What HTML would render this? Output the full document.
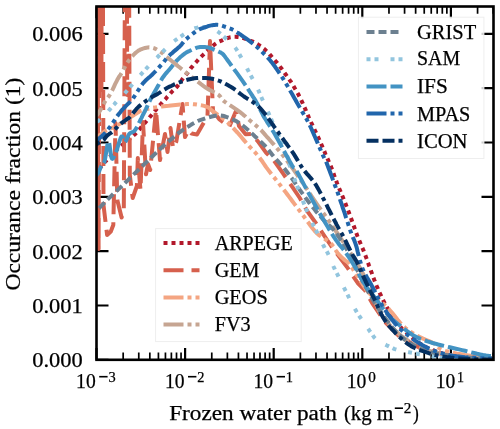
<!DOCTYPE html><html><head><meta charset="utf-8"><style>html,body{margin:0;padding:0;background:#fff;width:500px;height:429px;overflow:hidden}svg{display:block;will-change:transform}text{font-family:"Liberation Serif",serif;fill:#000;stroke:#000;stroke-width:0.25px}</style></head><body>
<svg width="500" height="429" viewBox="0 0 500 429">
<rect width="500" height="429" fill="#fff"/>
<defs><clipPath id="ax"><rect x="96.50" y="6.50" width="397.00" height="353.30"/></clipPath></defs>
<path d="M123.17 359.80V352.50M123.17 6.50V13.80M138.77 359.80V352.50M138.77 6.50V13.80M149.84 359.80V352.50M149.84 6.50V13.80M158.43 359.80V352.50M158.43 6.50V13.80M165.44 359.80V352.50M165.44 6.50V13.80M171.38 359.80V352.50M171.38 6.50V13.80M176.51 359.80V352.50M176.51 6.50V13.80M181.05 359.80V352.50M181.05 6.50V13.80M211.77 359.80V352.50M211.77 6.50V13.80M227.37 359.80V352.50M227.37 6.50V13.80M238.44 359.80V352.50M238.44 6.50V13.80M247.03 359.80V352.50M247.03 6.50V13.80M254.04 359.80V352.50M254.04 6.50V13.80M259.98 359.80V352.50M259.98 6.50V13.80M265.11 359.80V352.50M265.11 6.50V13.80M269.65 359.80V352.50M269.65 6.50V13.80M300.37 359.80V352.50M300.37 6.50V13.80M315.97 359.80V352.50M315.97 6.50V13.80M327.04 359.80V352.50M327.04 6.50V13.80M335.63 359.80V352.50M335.63 6.50V13.80M342.64 359.80V352.50M342.64 6.50V13.80M348.58 359.80V352.50M348.58 6.50V13.80M353.71 359.80V352.50M353.71 6.50V13.80M358.25 359.80V352.50M358.25 6.50V13.80M388.97 359.80V352.50M388.97 6.50V13.80M404.57 359.80V352.50M404.57 6.50V13.80M415.64 359.80V352.50M415.64 6.50V13.80M424.23 359.80V352.50M424.23 6.50V13.80M431.24 359.80V352.50M431.24 6.50V13.80M437.18 359.80V352.50M437.18 6.50V13.80M442.31 359.80V352.50M442.31 6.50V13.80M446.85 359.80V352.50M446.85 6.50V13.80M477.57 359.80V352.50M477.57 6.50V13.80M493.17 359.80V352.50M493.17 6.50V13.80" stroke="#000" stroke-width="1.7" fill="none"/>
<path d="M96.50 359.80V348.00M96.50 6.50V18.30M185.10 359.80V348.00M185.10 6.50V18.30M273.70 359.80V348.00M273.70 6.50V18.30M362.30 359.80V348.00M362.30 6.50V18.30M450.90 359.80V348.00M450.90 6.50V18.30" stroke="#000" stroke-width="2.2" fill="none"/>
<path d="M96.50 359.80H108.50M493.50 359.80H481.50M96.50 305.48H108.50M493.50 305.48H481.50M96.50 251.16H108.50M493.50 251.16H481.50M96.50 196.84H108.50M493.50 196.84H481.50M96.50 142.52H108.50M493.50 142.52H481.50M96.50 88.20H108.50M493.50 88.20H481.50M96.50 33.88H108.50M493.50 33.88H481.50" stroke="#000" stroke-width="2.2" fill="none"/>
<g clip-path="url(#ax)" fill="none" stroke-width="4" stroke-linecap="butt" stroke-linejoin="round">
<path d="M90.0 182.0 L90.8 180.9 L91.8 179.4 L93.1 177.6 L94.4 175.6 L95.8 173.7 L97.0 172.0 L98.2 170.4 L99.4 168.8 L100.6 167.2 L101.8 165.7 L102.9 164.3 L104.0 163.0 L104.9 161.9 L105.8 161.1 L106.6 160.3 L107.4 159.6 L108.2 158.8 L109.0 158.0 L109.8 157.1 L110.6 156.1 L111.4 155.1 L112.2 154.0 L113.0 153.0 L114.0 152.0 L115.0 151.0 L116.1 150.1 L117.2 149.2 L118.4 148.3 L119.7 147.2 L121.2 146.0 L122.9 144.5 L125.0 142.9 L127.1 141.1 L129.2 139.3 L131.2 137.6 L132.8 136.2 L134.0 135.1 L134.9 134.3 L135.6 133.6 L136.3 132.9 L137.2 132.0 L138.4 130.6 L140.0 128.8 L141.8 126.6 L143.8 124.2 L145.9 121.7 L148.0 119.2 L149.9 116.9 L151.8 114.7 L153.7 112.4 L155.6 110.2 L157.4 108.1 L159.0 106.2 L160.5 104.5 L161.7 103.1 L162.7 102.0 L163.6 101.0 L164.4 100.1 L165.2 99.3 L166.1 98.3 L167.0 97.2 L168.0 96.2 L168.9 95.1 L169.8 94.1 L170.8 93.0 L171.7 92.0 L172.6 91.0 L173.6 90.1 L174.5 89.2 L175.5 88.3 L176.4 87.4 L177.3 86.4 L178.1 85.3 L179.0 84.2 L179.8 83.0 L180.5 81.8 L181.4 80.6 L182.2 79.4 L183.1 78.2 L184.1 77.0 L185.0 75.8 L186.0 74.6 L186.9 73.5 L187.8 72.4 L188.6 71.4 L189.3 70.5 L189.9 69.6 L190.5 68.7 L191.2 67.8 L192.0 66.8 L192.9 65.8 L193.8 64.7 L194.7 63.6 L195.7 62.6 L196.7 61.5 L197.6 60.5 L198.4 59.6 L199.2 58.8 L199.9 58.0 L200.8 57.1 L201.8 56.1 L203.1 54.9 L204.8 53.3 L206.9 51.3 L209.1 49.2 L211.4 47.1 L213.6 45.3 L215.4 43.8 L216.9 42.8 L218.2 42.0 L219.3 41.5 L220.3 41.1 L221.4 40.7 L222.6 40.2 L223.9 39.6 L225.1 39.1 L226.4 38.5 L227.8 38.0 L229.1 37.6 L230.4 37.3 L231.7 37.1 L233.1 36.9 L234.5 36.8 L235.8 36.8 L237.2 36.9 L238.5 37.0 L239.8 37.2 L241.0 37.4 L242.3 37.8 L243.5 38.2 L244.7 38.6 L246.0 39.0 L247.3 39.5 L248.6 39.9 L250.0 40.5 L251.3 41.0 L252.7 41.6 L254.0 42.3 L255.4 43.0 L256.7 43.8 L258.1 44.6 L259.5 45.5 L260.8 46.3 L262.0 47.2 L263.1 48.1 L264.2 48.9 L265.2 49.8 L266.1 50.7 L267.1 51.6 L268.0 52.5 L268.9 53.4 L269.7 54.4 L270.5 55.3 L271.3 56.3 L272.1 57.3 L273.0 58.3 L273.9 59.3 L274.8 60.3 L275.7 61.3 L276.7 62.4 L277.8 63.7 L279.0 65.2 L280.4 67.1 L282.0 69.3 L283.7 71.6 L285.4 74.0 L286.9 76.1 L288.2 78.0 L289.2 79.4 L289.9 80.4 L290.6 81.3 L291.2 82.2 L291.9 83.3 L292.8 84.8 L293.9 86.7 L295.2 88.9 L296.6 91.3 L298.1 93.9 L299.5 96.7 L301.0 99.6 L302.5 102.8 L304.0 106.2 L305.6 109.8 L307.2 113.5 L308.7 117.1 L310.3 120.6 L311.9 124.0 L313.5 127.4 L315.1 130.8 L316.7 134.1 L318.2 137.3 L319.6 140.4 L320.9 143.4 L322.2 146.4 L323.4 149.2 L324.6 151.9 L325.6 154.5 L326.6 156.7 L327.4 158.5 L328.1 159.9 L328.6 161.1 L329.2 162.3 L329.8 163.7 L330.6 165.6 L331.5 168.1 L332.6 170.9 L333.7 174.0 L334.8 177.2 L336.0 180.4 L337.1 183.3 L338.2 186.0 L339.3 188.7 L340.4 191.3 L341.5 193.9 L342.6 196.5 L343.7 199.2 L344.8 201.9 L345.8 204.6 L346.9 207.3 L348.0 210.1 L349.1 213.0 L350.2 216.0 L351.4 219.3 L352.6 222.7 L353.9 226.3 L355.2 229.9 L356.4 233.3 L357.6 236.5 L358.8 239.4 L359.9 242.1 L361.0 244.7 L362.1 247.2 L363.2 249.7 L364.2 252.3 L365.2 254.9 L366.2 257.6 L367.2 260.3 L368.1 262.9 L369.0 265.6 L370.0 268.2 L370.9 270.8 L371.9 273.4 L372.8 276.0 L373.8 278.6 L374.7 281.1 L375.7 283.6 L376.7 286.1 L377.8 288.5 L378.8 291.0 L379.9 293.3 L381.0 295.6 L382.0 297.8 L383.0 299.8 L383.9 301.7 L384.9 303.5 L385.9 305.3 L386.9 307.1 L388.0 309.0 L389.2 311.0 L390.5 313.0 L391.8 315.0 L393.2 317.1 L394.6 319.1 L396.0 321.0 L397.3 322.8 L398.6 324.5 L399.9 326.1 L401.3 327.8 L403.0 329.6 L405.0 331.5 L407.5 333.7 L410.3 336.1 L413.3 338.7 L416.5 341.1 L419.8 343.5 L423.0 345.5 L426.2 347.2 L429.4 348.8 L432.7 350.2 L436.0 351.4 L439.5 352.6 L443.0 353.6 L446.5 354.5 L450.0 355.3 L453.6 355.9 L457.4 356.4 L461.5 356.9 L466.0 357.4 L471.4 357.8 L477.8 358.2 L484.4 358.5 L490.8 358.7 L496.2 358.9 L500.0 359.1" stroke="#b2182b" stroke-dasharray="4 4"/>
<path d="M96.0 -300.0 L98.6 249.0 L100.3 -300.0 L101.4 90.0 L102.2 -300.0 L103.5 205.0 L107.1 235.0 L110.8 231.5 L113.3 225.0 L115.5 123.0 L117.3 200.0 L121.6 217.5 L123.8 211.0 L126.3 -300.0 L127.2 95.0 L128.1 -300.0 L129.8 175.0 L132.7 198.0 L136.9 186.0 L137.8 158.0 L140.5 190.0 L143.0 122.0 L146.0 174.3 L148.0 164.0 L150.2 170.0 L156.0 110.0 L160.0 160.0 L165.0 134.0 L167.5 152.0 L170.5 128.0 L173.0 148.0 L176.3 141.6 L182.5 104.0 L185.0 137.0 L188.6 130.0 L191.5 133.5 L197.0 134.5 L207.5 116.0 L210.0 41.0 L213.0 111.0 L219.5 119.5 L229.3 126.8 L236.0 111.0 L239.0 126.0 L245.6 134.2 L252.0 134.0 L258.6 142.3 L266.2 152.8 L273.7 160.3 L283.0 173.4 L292.3 186.8 L299.8 198.0 L307.2 211.0 L316.6 224.1 L324.0 235.3 L331.5 246.5 L347.0 267.0 L358.2 283.6 L365.2 290.6 L372.2 303.1 L385.0 322.0 L400.0 337.0 L420.0 348.0 L445.0 355.0 L500.0 359.0" stroke="#d6604d" stroke-dasharray="20 8"/>
<path d="M90.0 141.0 L90.8 140.5 L92.0 139.9 L93.4 139.1 L94.9 138.2 L96.4 137.4 L97.8 136.5 L99.1 135.6 L100.3 134.7 L101.5 133.7 L102.7 132.8 L104.1 131.8 L105.5 130.9 L107.1 130.1 L108.8 129.2 L110.7 128.4 L112.5 127.7 L114.3 126.8 L116.0 126.0 L117.7 125.1 L119.4 124.1 L121.0 123.1 L122.6 122.1 L124.0 121.2 L125.3 120.4 L126.3 119.8 L127.1 119.3 L127.8 118.9 L128.4 118.6 L129.1 118.1 L130.0 117.6 L131.1 116.9 L132.3 116.1 L133.5 115.3 L134.8 114.4 L135.9 113.7 L137.0 113.0 L137.9 112.5 L138.6 112.0 L139.2 111.6 L139.9 111.2 L140.6 110.9 L141.6 110.5 L142.7 110.1 L143.9 109.7 L145.2 109.4 L146.6 109.0 L148.2 108.7 L150.0 108.3 L152.0 107.9 L154.3 107.6 L156.7 107.2 L159.1 106.8 L161.6 106.5 L164.0 106.2 L166.3 105.9 L168.7 105.7 L171.0 105.4 L173.3 105.2 L175.7 105.0 L178.0 104.8 L180.3 104.6 L182.7 104.4 L185.0 104.2 L187.3 104.1 L189.7 104.0 L192.0 104.1 L194.4 104.3 L196.9 104.6 L199.4 105.0 L201.9 105.4 L204.1 105.9 L206.0 106.5 L207.5 107.1 L208.6 107.7 L209.6 108.4 L210.5 109.2 L211.6 110.2 L213.0 111.3 L214.8 112.6 L216.9 114.1 L219.2 115.7 L221.6 117.5 L223.9 119.2 L226.0 121.0 L228.0 122.8 L230.0 124.7 L231.9 126.6 L233.8 128.6 L235.6 130.6 L237.4 132.5 L239.1 134.4 L240.7 136.3 L242.3 138.2 L243.9 140.1 L245.5 142.0 L247.2 144.0 L249.0 146.0 L251.0 148.1 L253.0 150.2 L255.0 152.3 L256.9 154.5 L258.7 156.6 L260.3 158.7 L261.8 160.7 L263.1 162.7 L264.6 164.8 L266.1 167.1 L268.0 169.6 L270.2 172.5 L272.7 175.7 L275.4 179.0 L278.1 182.4 L280.7 185.7 L283.0 188.7 L285.1 191.4 L287.0 194.0 L288.8 196.4 L290.6 198.8 L292.4 201.2 L294.2 203.6 L296.1 206.1 L297.9 208.6 L299.8 211.1 L301.7 213.6 L303.5 216.0 L305.4 218.5 L307.2 221.0 L309.0 223.5 L310.8 226.0 L312.7 228.5 L314.6 230.8 L316.6 233.0 L318.9 235.0 L321.3 236.7 L323.9 238.4 L326.3 240.0 L328.6 241.6 L330.6 243.2 L332.2 244.9 L333.5 246.6 L334.5 248.3 L335.5 250.0 L336.5 251.5 L337.6 253.0 L338.8 254.4 L340.0 255.6 L341.2 256.8 L342.4 258.0 L343.6 259.0 L344.6 260.0 L345.5 260.7 L346.2 261.2 L346.8 261.5 L347.5 262.0 L348.4 262.9 L349.5 264.2 L350.9 266.2 L352.6 268.7 L354.4 271.5 L356.3 274.4 L358.2 277.3 L360.0 280.0 L361.6 282.5 L363.1 284.9 L364.6 287.2 L366.2 289.5 L368.0 291.8 L370.0 294.0 L372.3 296.1 L374.9 297.9 L377.7 299.8 L380.5 301.7 L383.4 303.8 L386.2 306.2 L389.0 309.2 L391.9 312.5 L394.7 316.1 L397.6 319.7 L400.4 323.0 L403.0 325.8 L405.4 328.0 L407.7 329.8 L409.9 331.4 L412.1 332.8 L414.5 334.2 L417.0 335.6 L419.9 337.1 L423.1 338.6 L426.4 340.0 L429.6 341.4 L432.6 342.8 L435.0 344.0 L436.7 345.2 L437.7 346.2 L438.5 347.2 L439.3 348.2 L440.5 349.1 L442.5 350.0 L445.4 350.9 L448.9 351.8 L452.9 352.7 L457.1 353.6 L461.2 354.3 L465.0 355.0 L468.7 355.5 L472.4 356.0 L476.0 356.4 L479.6 356.7 L482.9 356.9 L486.0 357.2 L488.9 357.4 L491.7 357.6 L494.3 357.7 L496.6 357.8 L498.6 357.9 L500.0 358.0" stroke="#f4a582" stroke-dasharray="20 4 4 4 4 4"/>
<path d="M90.0 124.0 L91.0 122.7 L92.5 120.8 L94.2 118.6 L96.0 116.3 L97.8 114.0 L99.2 112.0 L100.4 110.1 L101.4 108.3 L102.3 106.5 L103.2 104.8 L104.1 103.2 L105.0 101.6 L105.9 100.2 L106.8 99.0 L107.6 97.9 L108.5 96.8 L109.4 95.4 L110.4 93.8 L111.5 91.8 L112.7 89.4 L113.9 86.8 L115.1 84.2 L116.3 81.8 L117.3 79.8 L118.2 78.2 L119.0 76.9 L119.7 75.8 L120.4 74.8 L121.2 73.6 L122.0 72.3 L122.9 70.7 L123.8 69.0 L124.7 67.3 L125.6 65.5 L126.7 63.7 L127.8 62.0 L129.0 60.3 L130.4 58.6 L131.8 56.9 L133.2 55.2 L134.6 53.8 L136.0 52.5 L137.3 51.5 L138.5 50.6 L139.8 49.9 L141.0 49.3 L142.3 48.8 L143.6 48.4 L145.0 48.0 L146.4 47.7 L147.9 47.4 L149.3 47.3 L150.8 47.4 L152.3 47.6 L153.9 48.1 L155.5 48.8 L157.2 49.8 L158.8 50.7 L160.2 51.7 L161.5 52.5 L162.5 53.2 L163.3 53.8 L163.9 54.5 L164.5 55.1 L165.2 55.8 L166.0 56.5 L167.0 57.3 L168.1 58.2 L169.3 59.1 L170.5 60.0 L171.7 61.0 L173.0 62.0 L174.3 63.0 L175.5 64.0 L176.8 65.1 L178.1 66.2 L179.5 67.3 L181.0 68.5 L182.5 69.7 L184.0 70.9 L185.6 72.2 L187.2 73.5 L189.0 75.0 L191.0 76.5 L193.2 78.2 L195.7 80.2 L198.4 82.2 L201.0 84.2 L203.6 86.1 L206.0 87.8 L208.3 89.2 L210.5 90.4 L212.7 91.5 L214.8 92.6 L216.6 93.6 L218.3 94.7 L219.6 95.8 L220.5 96.9 L221.2 97.9 L222.0 99.0 L223.0 100.2 L224.4 101.5 L226.4 103.0 L228.8 104.5 L231.4 106.2 L234.0 107.9 L236.6 109.6 L239.0 111.3 L241.1 112.9 L243.1 114.6 L245.1 116.2 L246.9 117.9 L248.7 119.5 L250.5 121.0 L252.3 122.5 L254.0 123.9 L255.7 125.3 L257.3 126.7 L258.8 128.0 L260.2 129.3 L261.4 130.5 L262.4 131.6 L263.3 132.6 L264.2 133.7 L265.2 134.8 L266.2 136.0 L267.4 137.3 L268.7 138.7 L270.0 140.2 L271.3 141.7 L272.5 143.1 L273.7 144.4 L274.7 145.6 L275.6 146.6 L276.5 147.6 L277.4 148.7 L278.3 149.8 L279.3 151.0 L280.3 152.3 L281.4 153.5 L282.4 154.8 L283.6 156.2 L285.0 158.0 L286.7 160.3 L288.7 163.1 L291.1 166.4 L293.7 169.9 L296.3 173.7 L299.0 177.5 L301.6 181.2 L304.2 185.0 L306.8 188.9 L309.5 192.9 L312.0 196.8 L314.4 200.4 L316.6 203.6 L318.5 206.3 L320.2 208.7 L321.7 210.8 L323.1 212.8 L324.5 214.7 L325.9 216.6 L327.2 218.5 L328.3 220.1 L329.4 221.7 L330.6 223.4 L331.9 225.3 L333.4 227.5 L335.2 230.1 L337.2 233.0 L339.3 236.1 L341.5 239.3 L343.8 242.6 L346.0 246.0 L348.3 249.4 L350.6 253.0 L353.0 256.6 L355.4 260.3 L357.8 264.1 L360.0 268.0 L362.2 272.1 L364.3 276.4 L366.5 280.8 L368.5 285.1 L370.3 289.3 L372.0 293.0 L373.4 296.4 L374.6 299.6 L375.7 302.5 L376.7 305.3 L377.6 307.8 L378.6 310.0 L379.5 311.8 L380.3 313.2 L381.0 314.4 L381.9 315.5 L382.9 316.8 L384.2 318.4 L385.8 320.4 L387.7 322.6 L389.8 325.0 L392.0 327.5 L394.3 329.8 L396.6 332.0 L399.0 334.0 L401.4 336.0 L404.0 337.9 L406.6 339.7 L409.2 341.5 L412.0 343.1 L414.7 344.6 L417.4 346.1 L420.1 347.4 L423.0 348.7 L426.3 349.9 L430.0 351.0 L434.2 352.1 L438.7 353.1 L443.6 354.1 L448.8 355.0 L454.3 355.8 L460.0 356.5 L466.6 357.1 L474.1 357.5 L481.9 357.9 L489.3 358.2 L495.5 358.4 L500.0 358.6" stroke="#c6a592" stroke-dasharray="20 4 4 4 4 4"/>
<path d="M90.0 216.0 L90.8 215.4 L91.8 214.5 L93.1 213.5 L94.6 212.3 L96.1 210.9 L97.8 209.4 L99.6 207.6 L101.6 205.6 L103.8 203.4 L106.0 201.2 L108.2 198.9 L110.4 196.8 L112.5 194.7 L114.8 192.6 L117.0 190.6 L119.1 188.6 L121.1 186.7 L123.0 184.9 L124.6 183.4 L125.9 182.1 L127.1 180.9 L128.4 179.7 L129.7 178.3 L131.4 176.7 L133.4 174.7 L135.8 172.4 L138.3 170.0 L140.8 167.6 L143.1 165.3 L145.2 163.3 L147.0 161.6 L148.6 160.0 L150.0 158.6 L151.4 157.3 L152.8 156.0 L154.2 154.6 L155.7 153.2 L157.2 151.7 L158.8 150.2 L160.3 148.8 L161.7 147.5 L163.1 146.2 L164.4 145.1 L165.5 144.0 L166.6 143.1 L167.7 142.2 L168.8 141.2 L170.0 140.2 L171.3 139.1 L172.6 138.0 L173.9 136.8 L175.2 135.7 L176.5 134.6 L177.8 133.6 L179.0 132.7 L180.2 131.8 L181.4 131.0 L182.6 130.2 L183.8 129.4 L185.0 128.6 L186.3 127.7 L187.7 126.9 L189.1 126.0 L190.5 125.1 L191.8 124.3 L193.1 123.6 L194.2 123.0 L195.1 122.4 L195.9 121.9 L196.9 121.4 L198.2 120.8 L200.0 120.2 L202.4 119.4 L205.3 118.4 L208.5 117.4 L211.8 116.5 L215.0 115.7 L217.8 115.4 L220.3 115.4 L222.6 115.8 L224.8 116.3 L226.8 117.1 L228.9 117.9 L230.9 118.7 L232.9 119.5 L234.7 120.4 L236.5 121.3 L238.3 122.4 L240.2 123.7 L242.3 125.2 L244.6 127.0 L247.2 129.2 L249.8 131.5 L252.4 133.9 L254.8 136.2 L257.0 138.2 L258.9 139.9 L260.5 141.5 L262.1 142.9 L263.5 144.3 L264.8 145.7 L266.2 147.2 L267.5 148.7 L268.6 150.1 L269.7 151.5 L270.9 153.0 L272.2 154.7 L273.7 156.6 L275.5 158.7 L277.6 160.9 L279.7 163.3 L282.0 165.9 L284.4 168.6 L286.7 171.5 L289.1 174.7 L291.7 178.2 L294.3 181.9 L296.8 185.7 L299.3 189.2 L301.6 192.4 L303.7 195.3 L305.6 197.9 L307.4 200.3 L309.2 202.7 L311.0 205.0 L312.8 207.3 L314.7 209.6 L316.5 211.9 L318.4 214.1 L320.3 216.2 L322.1 218.3 L324.0 220.4 L325.8 222.2 L327.5 223.8 L329.3 225.4 L331.0 227.0 L332.9 229.0 L335.0 231.6 L337.3 234.8 L339.8 238.4 L342.4 242.4 L345.1 246.6 L347.6 250.9 L350.0 255.0 L352.2 259.1 L354.2 263.2 L356.1 267.4 L358.0 271.7 L359.9 275.8 L362.0 280.0 L364.1 284.1 L366.3 288.1 L368.4 292.1 L370.7 296.1 L373.1 300.2 L375.8 304.4 L378.8 308.9 L382.0 313.6 L385.4 318.4 L388.9 323.0 L392.2 327.3 L395.4 331.0 L398.3 334.1 L401.1 336.7 L403.8 338.9 L406.5 340.9 L409.2 342.7 L412.0 344.5 L414.8 346.1 L417.5 347.5 L420.2 348.8 L423.1 349.9 L426.3 351.0 L430.0 352.0 L434.2 353.0 L438.7 354.0 L443.6 354.8 L448.8 355.6 L454.3 356.4 L460.0 357.0 L466.6 357.5 L474.1 358.0 L481.9 358.3 L489.3 358.6 L495.5 358.8 L500.0 359.0" stroke="#6c8090" stroke-dasharray="8 4"/>
<path d="M90.0 126.0 L91.3 125.2 L93.0 124.2 L95.1 122.9 L97.3 121.5 L99.3 120.2 L101.0 119.0 L102.2 118.0 L103.1 117.1 L103.9 116.2 L104.7 115.2 L105.6 114.1 L106.8 112.7 L108.4 111.0 L110.2 108.9 L112.1 106.7 L114.1 104.5 L115.9 102.4 L117.5 100.7 L118.7 99.4 L119.7 98.4 L120.6 97.6 L121.5 96.8 L122.5 95.8 L123.7 94.5 L125.2 92.8 L127.0 90.7 L128.9 88.5 L130.8 86.2 L132.5 84.2 L134.0 82.4 L135.1 81.1 L136.0 80.1 L136.7 79.2 L137.5 78.4 L138.4 77.3 L139.6 76.0 L141.2 74.2 L143.1 72.1 L145.2 69.8 L147.2 67.6 L149.2 65.5 L150.8 63.7 L152.1 62.4 L153.1 61.4 L153.9 60.6 L154.8 59.8 L155.7 58.8 L157.0 57.6 L158.6 56.0 L160.5 54.1 L162.5 52.1 L164.5 50.0 L166.4 48.2 L168.0 46.6 L169.2 45.4 L170.2 44.5 L171.0 43.7 L171.8 42.9 L172.9 42.1 L174.3 41.0 L176.2 39.6 L178.5 38.0 L181.0 36.3 L183.5 34.6 L185.8 33.1 L187.8 31.8 L189.4 30.8 L190.6 30.1 L191.7 29.5 L192.8 29.0 L193.8 28.6 L195.0 28.2 L196.3 27.9 L197.6 27.6 L198.9 27.4 L200.2 27.3 L201.6 27.2 L203.0 27.2 L204.4 27.3 L205.9 27.4 L207.4 27.6 L209.0 27.9 L210.4 28.2 L211.8 28.6 L213.0 29.0 L214.1 29.5 L215.2 30.0 L216.3 30.6 L217.5 31.4 L219.0 32.5 L220.8 34.0 L222.9 35.8 L225.1 37.8 L227.3 39.8 L229.3 41.7 L231.0 43.3 L232.3 44.5 L233.2 45.4 L234.0 46.1 L234.7 47.0 L235.5 48.0 L236.5 49.5 L237.8 51.6 L239.3 54.1 L240.9 56.9 L242.5 59.7 L243.9 62.3 L245.1 64.4 L245.9 65.9 L246.5 67.1 L246.9 68.0 L247.3 68.8 L247.8 69.9 L248.6 71.4 L249.6 73.4 L250.9 75.8 L252.3 78.3 L253.7 80.9 L254.9 83.3 L256.0 85.4 L256.8 87.0 L257.4 88.3 L258.0 89.5 L258.5 90.6 L259.1 91.9 L259.8 93.6 L260.7 95.7 L261.8 98.2 L263.0 100.8 L264.2 103.4 L265.3 105.9 L266.2 108.0 L266.8 109.4 L267.2 110.2 L267.5 110.8 L267.9 111.7 L268.7 113.4 L270.0 116.5 L272.2 121.5 L275.2 128.2 L278.5 135.7 L281.8 143.1 L284.6 149.8 L286.7 154.7 L287.8 157.6 L288.3 159.2 L288.3 159.8 L288.2 160.2 L288.2 160.8 L288.6 162.2 L289.3 164.2 L290.0 166.5 L290.8 169.0 L291.8 171.7 L292.9 174.9 L294.2 178.4 L295.8 182.6 L297.7 187.5 L299.7 192.8 L301.7 198.1 L303.7 203.0 L305.4 207.3 L306.9 210.9 L308.3 214.1 L309.6 217.0 L310.7 219.6 L311.8 222.0 L312.8 224.1 L313.6 225.8 L314.2 227.0 L314.7 228.0 L315.2 228.9 L315.8 230.0 L316.6 231.6 L317.7 233.7 L318.9 236.3 L320.3 239.1 L321.7 241.8 L322.9 244.4 L324.0 246.5 L324.8 248.1 L325.5 249.2 L326.1 250.1 L326.6 251.0 L327.2 252.1 L328.0 253.7 L329.0 255.8 L330.1 258.4 L331.3 261.1 L332.4 263.9 L333.5 266.5 L334.5 268.6 L335.2 270.2 L335.8 271.3 L336.3 272.3 L336.8 273.2 L337.4 274.4 L338.2 276.0 L339.3 278.1 L340.6 280.7 L341.9 283.5 L343.3 286.3 L344.6 288.9 L345.7 291.0 L346.5 292.6 L347.1 293.8 L347.6 294.8 L348.0 295.7 L348.6 296.9 L349.4 298.4 L350.4 300.4 L351.6 302.7 L352.9 305.1 L354.2 307.7 L355.6 310.1 L356.9 312.4 L358.2 314.5 L359.6 316.5 L361.0 318.5 L362.4 320.4 L363.7 322.2 L365.0 324.0 L366.2 325.7 L367.3 327.4 L368.4 329.0 L369.4 330.6 L370.4 332.0 L371.4 333.4 L372.3 334.6 L373.0 335.7 L373.7 336.7 L374.5 337.7 L375.6 338.7 L377.0 339.8 L378.9 341.1 L381.3 342.4 L383.9 343.8 L386.5 345.2 L388.9 346.4 L391.0 347.4 L392.6 348.1 L393.7 348.7 L394.7 349.1 L395.8 349.4 L397.1 349.8 L398.8 350.2 L401.0 350.7 L403.5 351.2 L406.2 351.8 L409.1 352.3 L412.3 352.9 L415.6 353.5 L419.2 354.2 L423.0 354.9 L427.0 355.6 L431.2 356.3 L435.5 357.0 L440.0 357.5 L444.7 357.9 L449.6 358.3 L454.6 358.6 L459.8 358.9 L464.9 359.1 L470.0 359.3 L475.3 359.5 L481.1 359.6 L486.9 359.7 L492.2 359.7 L496.7 359.8 L500.0 359.8" stroke="#92c5de" stroke-dasharray="4 4 4 12"/>
<path d="M90.0 182.0 L90.9 181.1 L92.2 179.8 L93.7 178.3 L95.2 176.7 L96.6 175.1 L97.8 173.6 L98.7 172.1 L99.4 170.6 L99.9 169.1 L100.5 167.7 L101.0 166.3 L101.5 165.2 L102.0 164.5 L102.5 164.2 L103.0 164.1 L103.5 163.8 L104.0 163.0 L104.5 161.5 L105.1 158.7 L105.8 154.7 L106.5 150.2 L107.2 146.0 L107.9 142.9 L108.5 141.5 L109.1 142.5 L109.6 145.3 L110.1 149.2 L110.7 153.2 L111.2 156.6 L111.8 158.5 L112.4 158.9 L113.1 158.4 L113.8 157.3 L114.5 155.7 L115.2 153.9 L116.0 152.0 L116.9 149.7 L117.8 146.7 L118.8 143.5 L119.8 140.4 L120.7 138.0 L121.5 136.5 L122.2 136.4 L122.8 137.3 L123.3 138.8 L123.9 140.4 L124.4 141.6 L125.0 142.0 L125.6 141.4 L126.3 140.2 L127.0 138.5 L127.7 136.8 L128.4 135.2 L129.2 134.0 L130.0 133.2 L130.9 132.7 L131.8 132.4 L132.7 132.0 L133.6 131.6 L134.4 130.9 L135.1 130.0 L135.8 129.1 L136.4 128.0 L137.0 126.9 L137.6 125.7 L138.2 124.5 L138.8 123.3 L139.5 122.0 L140.1 120.7 L140.7 119.4 L141.4 118.1 L142.0 116.8 L142.6 115.5 L143.3 114.3 L143.9 113.1 L144.6 111.8 L145.2 110.5 L145.9 109.1 L146.6 107.6 L147.3 106.1 L148.0 104.6 L148.7 103.0 L149.5 101.3 L150.4 99.5 L151.4 97.6 L152.6 95.4 L153.8 93.3 L155.1 91.1 L156.3 89.0 L157.4 87.0 L158.4 85.2 L159.3 83.5 L160.2 81.8 L161.1 80.3 L162.0 78.7 L163.0 77.2 L164.1 75.7 L165.2 74.3 L166.4 72.9 L167.6 71.5 L168.8 70.2 L170.0 68.8 L171.2 67.4 L172.3 65.9 L173.4 64.5 L174.6 63.1 L175.8 61.7 L177.0 60.4 L178.3 59.1 L179.6 57.8 L181.0 56.6 L182.4 55.4 L183.7 54.4 L185.0 53.4 L186.2 52.6 L187.4 51.9 L188.6 51.3 L189.8 50.8 L190.9 50.3 L192.0 49.8 L193.1 49.3 L194.1 48.8 L195.1 48.4 L196.0 48.0 L197.0 47.7 L198.0 47.4 L199.0 47.2 L200.0 47.1 L201.0 47.0 L202.0 47.0 L203.0 47.0 L204.0 47.0 L205.0 47.1 L206.0 47.2 L207.0 47.3 L208.0 47.5 L209.0 47.7 L210.0 48.0 L211.0 48.3 L212.0 48.7 L213.0 49.1 L214.0 49.6 L215.0 50.0 L216.0 50.5 L217.0 50.9 L218.1 51.4 L219.2 51.9 L220.2 52.3 L221.1 52.8 L222.0 53.4 L222.7 53.9 L223.2 54.5 L223.7 55.0 L224.2 55.6 L224.8 56.4 L225.5 57.4 L226.4 58.6 L227.4 60.0 L228.5 61.5 L229.7 63.2 L231.0 65.0 L232.3 66.8 L233.7 68.7 L235.2 70.8 L236.8 72.9 L238.4 75.1 L240.0 77.4 L241.6 79.6 L243.2 81.9 L244.9 84.4 L246.5 86.8 L248.1 89.2 L249.6 91.5 L251.0 93.6 L252.2 95.4 L253.1 96.9 L254.0 98.2 L254.9 99.6 L255.8 101.1 L256.8 102.9 L257.9 105.0 L259.1 107.3 L260.3 109.8 L261.6 112.3 L262.9 114.9 L264.3 117.4 L265.8 119.8 L267.3 122.3 L268.9 124.7 L270.5 127.2 L272.1 129.7 L273.7 132.3 L275.3 135.0 L276.8 137.8 L278.4 140.6 L279.9 143.4 L281.5 146.3 L283.0 149.1 L284.6 152.0 L286.3 155.2 L288.0 158.3 L289.6 161.2 L291.1 163.8 L292.3 165.9 L293.2 167.1 L293.7 167.6 L294.0 167.7 L294.4 167.9 L295.0 168.5 L296.0 170.0 L297.4 172.5 L299.2 175.6 L301.1 179.2 L303.2 183.1 L305.2 186.9 L307.2 190.5 L309.1 194.0 L311.0 197.5 L312.9 201.0 L314.8 204.5 L316.6 207.8 L318.4 211.0 L320.1 214.0 L321.7 216.8 L323.3 219.4 L324.8 222.0 L326.3 224.5 L327.8 227.0 L329.2 229.4 L330.6 231.7 L332.0 233.9 L333.3 236.1 L334.7 238.2 L336.2 240.4 L337.8 242.5 L339.4 244.7 L341.1 246.8 L342.8 248.8 L344.5 250.9 L346.0 253.0 L347.4 255.1 L348.8 257.1 L350.2 259.2 L351.5 261.3 L352.7 263.3 L354.0 265.4 L355.2 267.5 L356.4 269.6 L357.6 271.8 L358.7 273.9 L359.8 276.0 L361.0 278.0 L362.2 280.0 L363.3 281.9 L364.5 283.9 L365.7 285.7 L366.8 287.5 L368.0 289.2 L369.2 290.7 L370.3 292.2 L371.5 293.5 L372.7 294.8 L373.8 296.2 L375.0 297.6 L376.1 299.1 L377.3 300.7 L378.4 302.3 L379.5 303.9 L380.7 305.6 L382.0 307.3 L383.3 309.0 L384.7 310.8 L386.1 312.5 L387.6 314.3 L389.2 316.2 L391.0 318.0 L393.1 319.9 L395.4 321.9 L397.9 324.0 L400.4 325.9 L402.8 327.8 L405.0 329.5 L407.0 331.0 L408.8 332.3 L410.5 333.5 L412.2 334.7 L414.0 335.7 L416.0 336.8 L418.1 337.8 L420.3 338.8 L422.6 339.7 L425.0 340.5 L427.5 341.4 L430.0 342.2 L432.6 343.0 L435.4 343.7 L438.2 344.5 L441.1 345.2 L444.1 345.9 L447.0 346.6 L449.9 347.3 L452.9 348.0 L455.9 348.7 L459.0 349.4 L462.0 350.1 L465.0 350.8 L468.0 351.5 L471.0 352.3 L474.1 353.0 L477.1 353.8 L480.1 354.4 L483.0 355.0 L486.1 355.5 L489.4 355.9 L492.6 356.3 L495.6 356.6 L498.2 356.8 L500.0 357.0" stroke="#4393c3" stroke-dasharray="20 4"/>
<path d="M90.0 145.0 L91.4 144.0 L93.3 142.7 L95.5 141.1 L97.9 139.3 L100.1 137.6 L102.0 136.0 L103.6 134.5 L105.0 133.1 L106.3 131.7 L107.5 130.2 L108.7 128.6 L110.0 127.0 L111.3 125.2 L112.6 123.2 L114.0 121.2 L115.2 119.1 L116.5 117.2 L117.7 115.5 L118.8 114.0 L119.9 112.7 L120.9 111.4 L121.9 110.2 L123.0 109.0 L124.1 107.8 L125.4 106.5 L126.7 105.1 L128.1 103.8 L129.5 102.5 L130.7 101.2 L131.8 100.1 L132.6 99.2 L133.1 98.5 L133.5 97.8 L133.9 97.1 L134.5 96.2 L135.3 95.0 L136.4 93.3 L137.6 91.3 L139.0 89.1 L140.5 86.8 L142.0 84.7 L143.4 82.8 L144.8 81.3 L146.1 80.0 L147.5 78.8 L148.9 77.6 L150.3 76.4 L151.8 75.0 L153.4 73.4 L155.1 71.7 L156.8 69.8 L158.5 68.0 L160.1 66.2 L161.6 64.6 L162.9 63.1 L164.0 61.7 L165.0 60.4 L166.1 59.0 L167.2 57.7 L168.6 56.2 L170.3 54.6 L172.3 52.9 L174.3 51.1 L176.4 49.4 L178.2 47.8 L179.8 46.4 L181.0 45.2 L181.8 44.2 L182.5 43.2 L183.2 42.4 L183.9 41.5 L184.8 40.5 L185.9 39.4 L187.1 38.4 L188.4 37.2 L189.8 36.2 L191.0 35.1 L192.2 34.2 L193.2 33.4 L194.2 32.6 L195.1 31.9 L196.0 31.2 L196.9 30.6 L198.0 30.0 L199.2 29.4 L200.5 28.9 L201.8 28.4 L203.2 27.9 L204.5 27.4 L205.8 27.0 L207.0 26.6 L208.1 26.2 L209.1 25.9 L210.2 25.6 L211.3 25.4 L212.4 25.2 L213.6 25.0 L214.7 24.9 L215.9 24.8 L217.1 24.8 L218.5 24.9 L220.0 25.2 L221.8 25.6 L223.8 26.3 L225.9 27.0 L228.0 27.8 L230.0 28.5 L231.6 29.2 L232.9 29.8 L233.9 30.3 L234.7 30.9 L235.5 31.4 L236.2 31.9 L237.0 32.4 L237.7 32.8 L238.2 33.1 L238.8 33.4 L239.4 33.8 L240.3 34.4 L241.6 35.3 L243.4 36.6 L245.6 38.1 L248.0 39.9 L250.6 41.8 L253.2 43.8 L255.6 45.8 L258.0 47.9 L260.4 50.2 L262.8 52.6 L265.2 55.0 L267.5 57.4 L269.6 59.8 L271.6 62.1 L273.4 64.5 L275.1 66.8 L276.7 69.2 L278.4 71.6 L280.0 74.0 L281.6 76.4 L283.2 78.9 L284.7 81.4 L286.2 83.9 L287.8 86.5 L289.3 89.1 L290.8 91.8 L292.4 94.5 L293.9 97.2 L295.5 100.0 L297.0 102.8 L298.6 105.5 L300.2 108.2 L301.8 111.0 L303.4 113.7 L305.0 116.5 L306.6 119.1 L308.0 121.8 L309.3 124.4 L310.5 126.8 L311.6 129.3 L312.7 131.7 L313.8 134.3 L315.0 137.0 L316.3 140.0 L317.8 143.3 L319.2 146.7 L320.7 150.1 L322.0 153.1 L323.1 155.6 L324.0 157.5 L324.6 158.8 L325.2 159.9 L325.7 160.9 L326.2 162.1 L326.9 163.7 L327.7 165.8 L328.6 168.2 L329.6 170.8 L330.6 173.5 L331.6 176.1 L332.5 178.7 L333.4 181.2 L334.3 183.6 L335.2 186.0 L336.2 188.5 L337.1 191.0 L338.0 193.6 L338.9 196.2 L339.8 198.9 L340.7 201.5 L341.7 204.3 L342.6 207.3 L343.7 210.4 L344.9 213.9 L346.1 217.8 L347.5 221.9 L348.8 225.9 L350.0 229.6 L351.1 232.8 L352.0 235.2 L352.8 237.1 L353.5 238.6 L354.2 240.2 L354.9 242.1 L355.8 244.6 L356.8 247.9 L357.7 251.8 L358.8 256.0 L359.9 260.3 L361.1 264.4 L362.4 268.2 L363.9 271.6 L365.5 274.8 L367.2 277.8 L369.0 280.8 L370.6 283.6 L372.2 286.4 L373.6 289.2 L375.0 291.8 L376.3 294.4 L377.5 296.9 L378.8 299.3 L380.0 301.6 L381.2 303.7 L382.3 305.6 L383.5 307.5 L384.6 309.2 L385.8 311.0 L387.0 312.8 L388.3 314.7 L389.7 316.5 L391.0 318.4 L392.5 320.2 L393.8 322.0 L395.2 323.6 L396.4 325.0 L397.4 326.2 L398.4 327.3 L399.5 328.5 L401.0 329.8 L403.0 331.4 L405.6 333.4 L408.6 335.8 L412.0 338.3 L415.6 340.9 L419.2 343.2 L422.6 345.3 L425.9 347.0 L429.1 348.6 L432.4 350.0 L435.7 351.3 L439.0 352.5 L442.5 353.5 L446.0 354.4 L449.3 355.1 L452.8 355.8 L456.5 356.3 L460.5 356.7 L465.0 357.2 L470.5 357.6 L477.0 358.0 L483.9 358.3 L490.5 358.6 L496.0 358.8 L500.0 359.0" stroke="#2166ac" stroke-dasharray="20 4 4 4 4 4"/>
<path d="M90.0 149.0 L90.8 148.4 L91.9 147.6 L93.3 146.6 L94.7 145.5 L96.1 144.6 L97.3 143.7 L98.4 143.0 L99.5 142.4 L100.6 141.8 L101.6 141.2 L102.6 140.6 L103.4 140.0 L104.1 139.4 L104.6 138.8 L105.0 138.1 L105.5 137.5 L106.0 136.8 L106.7 136.1 L107.6 135.3 L108.6 134.5 L109.7 133.7 L110.9 132.9 L112.1 132.0 L113.2 131.0 L114.3 130.0 L115.4 128.9 L116.6 127.7 L117.7 126.6 L118.8 125.4 L120.0 124.4 L121.2 123.4 L122.5 122.4 L123.9 121.4 L125.1 120.5 L126.2 119.7 L127.2 119.0 L127.9 118.6 L128.2 118.4 L128.5 118.3 L128.8 118.1 L129.2 117.7 L130.0 116.9 L131.1 115.6 L132.4 114.0 L133.8 112.1 L135.4 110.2 L137.0 108.3 L138.7 106.6 L140.5 105.1 L142.4 103.6 L144.4 102.1 L146.4 100.7 L148.3 99.5 L150.0 98.3 L151.6 97.3 L153.0 96.4 L154.4 95.6 L155.8 94.9 L157.1 94.2 L158.4 93.4 L159.7 92.6 L160.9 91.8 L162.0 91.0 L163.2 90.2 L164.6 89.4 L166.1 88.5 L167.8 87.6 L169.7 86.6 L171.7 85.7 L173.7 84.7 L175.8 83.8 L178.0 82.9 L180.2 82.1 L182.5 81.3 L184.9 80.5 L187.3 79.8 L189.6 79.2 L192.0 78.7 L194.4 78.3 L196.7 78.1 L199.1 77.9 L201.5 77.9 L203.8 77.9 L206.0 78.0 L208.1 78.2 L210.2 78.4 L212.2 78.8 L214.1 79.2 L216.2 79.8 L218.3 80.5 L220.6 81.4 L222.9 82.5 L225.3 83.8 L227.7 85.1 L230.1 86.4 L232.3 87.8 L234.4 89.2 L236.3 90.6 L238.2 92.1 L240.1 93.6 L242.0 95.0 L244.0 96.5 L246.1 97.9 L248.3 99.3 L250.6 100.6 L252.8 102.0 L254.9 103.5 L256.9 105.0 L258.7 106.6 L260.3 108.3 L261.8 110.0 L263.2 111.7 L264.7 113.6 L266.2 115.5 L267.7 117.5 L269.3 119.7 L270.8 121.9 L272.4 124.1 L273.9 126.4 L275.5 128.6 L277.1 130.8 L278.6 132.9 L280.2 135.1 L281.8 137.3 L283.3 139.4 L284.9 141.6 L286.5 143.8 L288.0 145.9 L289.6 148.0 L291.1 150.2 L292.7 152.4 L294.2 154.7 L295.7 157.1 L297.2 159.6 L298.7 162.1 L300.3 164.7 L301.8 167.2 L303.5 169.6 L305.3 171.9 L307.2 174.1 L309.1 176.2 L311.0 178.4 L312.9 180.7 L314.7 183.1 L316.4 185.7 L318.0 188.5 L319.6 191.4 L321.1 194.3 L322.6 197.2 L324.0 199.9 L325.4 202.5 L326.7 205.1 L327.9 207.7 L329.2 210.1 L330.4 212.5 L331.5 214.8 L332.6 216.9 L333.7 219.0 L334.7 220.9 L335.7 222.8 L336.6 224.6 L337.6 226.4 L338.5 228.1 L339.4 229.5 L340.3 231.0 L341.1 232.5 L342.1 234.2 L343.2 236.2 L344.5 238.7 L345.9 241.5 L347.4 244.6 L348.9 247.7 L350.3 250.5 L351.6 253.0 L352.7 255.0 L353.7 256.7 L354.6 258.1 L355.4 259.5 L356.3 261.0 L357.2 262.8 L358.2 264.8 L359.2 267.0 L360.2 269.3 L361.2 271.6 L362.2 273.9 L363.2 276.2 L364.2 278.4 L365.3 280.6 L366.3 282.8 L367.4 285.0 L368.4 287.1 L369.4 289.2 L370.3 291.1 L371.2 292.8 L372.1 294.5 L372.9 296.2 L373.9 298.1 L375.0 300.3 L376.2 302.9 L377.4 305.8 L378.8 308.9 L380.2 312.0 L381.7 315.1 L383.4 318.0 L385.2 320.8 L387.2 323.5 L389.3 326.2 L391.5 328.8 L393.8 331.2 L396.0 333.6 L398.3 335.9 L400.6 338.0 L403.0 340.1 L405.4 342.1 L407.7 343.8 L410.0 345.4 L412.1 346.7 L414.2 347.8 L416.2 348.7 L418.2 349.5 L420.5 350.3 L423.0 351.2 L425.8 352.1 L428.7 353.1 L431.8 354.1 L435.2 355.0 L438.7 355.8 L442.5 356.5 L446.6 357.1 L451.0 357.6 L455.6 358.0 L460.4 358.4 L465.2 358.7 L470.0 359.0 L475.2 359.2 L480.9 359.4 L486.7 359.5 L492.1 359.5 L496.7 359.6 L500.0 359.6" stroke="#053061" stroke-dasharray="12 4 12 4 4 4"/>
</g>
<rect x="96.50" y="6.50" width="397.00" height="353.30" fill="none" stroke="#000" stroke-width="2.6"/>
<rect x="358.4" y="17.2" width="125.5" height="141.3" fill="#fff" fill-opacity="0.8" stroke="#eeeeee" stroke-width="1"/>
<path d="M366.5 32.0H402.5" stroke="#6c8090" stroke-width="4" stroke-dasharray="8 4" fill="none"/>
<text x="417.0" y="38.7" font-size="20" textLength="59.2" lengthAdjust="spacingAndGlyphs">GRIST</text>
<path d="M366.5 59.2H402.5" stroke="#92c5de" stroke-width="4" stroke-dasharray="4 4 4 12" fill="none"/>
<text x="417.0" y="65.4" font-size="20" textLength="43.2" lengthAdjust="spacingAndGlyphs">SAM</text>
<path d="M366.5 86.4H402.5" stroke="#4393c3" stroke-width="4" stroke-dasharray="20 4" fill="none"/>
<text x="417.0" y="93.3" font-size="20" textLength="30.8" lengthAdjust="spacingAndGlyphs">IFS</text>
<path d="M366.5 113.6H402.5" stroke="#2166ac" stroke-width="4" stroke-dasharray="20 4 4 4 4 4" fill="none"/>
<text x="417.0" y="120.7" font-size="20" textLength="53.3" lengthAdjust="spacingAndGlyphs">MPAS</text>
<path d="M366.5 140.7H402.5" stroke="#053061" stroke-width="4" stroke-dasharray="12 4 12 4 4 4" fill="none"/>
<text x="417.0" y="148.2" font-size="20" textLength="50.5" lengthAdjust="spacingAndGlyphs">ICON</text>
<rect x="155.6" y="228.6" width="145.6" height="113.0" fill="#fff" fill-opacity="0.8" stroke="#eeeeee" stroke-width="1"/>
<path d="M163.5 243.1H199.5" stroke="#b2182b" stroke-width="4" stroke-dasharray="4 4" fill="none"/>
<text x="214.7" y="249.6" font-size="20" textLength="78.0" lengthAdjust="spacingAndGlyphs">ARPEGE</text>
<path d="M163.5 270.2H199.5" stroke="#d6604d" stroke-width="4" stroke-dasharray="20 8" fill="none"/>
<text x="214.7" y="276.6" font-size="20" textLength="44.7" lengthAdjust="spacingAndGlyphs">GEM</text>
<path d="M163.5 297.4H199.5" stroke="#f4a582" stroke-width="4" stroke-dasharray="20 4 4 4 4 4" fill="none"/>
<text x="214.7" y="303.8" font-size="20" textLength="53.1" lengthAdjust="spacingAndGlyphs">GEOS</text>
<path d="M163.5 324.6H199.5" stroke="#c6a592" stroke-width="4" stroke-dasharray="20 4 4 4 4 4" fill="none"/>
<text x="214.7" y="330.6" font-size="20" textLength="35.9" lengthAdjust="spacingAndGlyphs">FV3</text>
<text x="32.2" y="367.1" font-size="20" textLength="50.5" lengthAdjust="spacingAndGlyphs">0.000</text>
<text x="32.2" y="312.8" font-size="20" textLength="50.5" lengthAdjust="spacingAndGlyphs">0.001</text>
<text x="32.2" y="258.5" font-size="20" textLength="50.5" lengthAdjust="spacingAndGlyphs">0.002</text>
<text x="32.2" y="204.1" font-size="20" textLength="50.5" lengthAdjust="spacingAndGlyphs">0.003</text>
<text x="32.2" y="149.8" font-size="20" textLength="50.5" lengthAdjust="spacingAndGlyphs">0.004</text>
<text x="32.2" y="95.5" font-size="20" textLength="50.5" lengthAdjust="spacingAndGlyphs">0.005</text>
<text x="32.2" y="41.2" font-size="20" textLength="50.5" lengthAdjust="spacingAndGlyphs">0.006</text>
<text x="76.1" y="388.0" font-size="20.5" textLength="19.6" lengthAdjust="spacingAndGlyphs">10</text>
<rect x="99.2" y="375.9" width="8.4" height="1.6" fill="#000"/>
<text x="108.4" y="382.0" font-size="14.5" textLength="7.2" lengthAdjust="spacingAndGlyphs">3</text>
<text x="164.9" y="388.0" font-size="20.5" textLength="19.6" lengthAdjust="spacingAndGlyphs">10</text>
<rect x="188.0" y="375.9" width="8.4" height="1.6" fill="#000"/>
<text x="197.2" y="382.0" font-size="14.5" textLength="7.2" lengthAdjust="spacingAndGlyphs">2</text>
<text x="253.5" y="388.0" font-size="20.5" textLength="19.6" lengthAdjust="spacingAndGlyphs">10</text>
<rect x="276.6" y="375.9" width="8.4" height="1.6" fill="#000"/>
<text x="285.8" y="382.0" font-size="14.5" textLength="7.2" lengthAdjust="spacingAndGlyphs">1</text>
<text x="346.7" y="388.0" font-size="20.5" textLength="19.6" lengthAdjust="spacingAndGlyphs">10</text>
<text x="368.2" y="381.8" font-size="14.5" textLength="7.6" lengthAdjust="spacingAndGlyphs">0</text>
<text x="435.7" y="388.0" font-size="20.5" textLength="19.6" lengthAdjust="spacingAndGlyphs">10</text>
<text x="457.0" y="381.8" font-size="14.5" textLength="7.0" lengthAdjust="spacingAndGlyphs">1</text>
<text x="169.2" y="419.6" font-size="20.5" textLength="167.8" lengthAdjust="spacingAndGlyphs">Frozen water path</text>
<text x="343.9" y="419.6" font-size="20.5" textLength="27.8" lengthAdjust="spacingAndGlyphs">(kg</text>
<text x="376.8" y="419.6" font-size="20.5" textLength="16.6" lengthAdjust="spacingAndGlyphs">m</text>
<rect x="394.8" y="407.4" width="8.2" height="1.6" fill="#000"/>
<text x="403.7" y="412.9" font-size="14.5" textLength="7.6" lengthAdjust="spacingAndGlyphs">2</text>
<text x="413.0" y="419.6" font-size="20.5" textLength="5.8" lengthAdjust="spacingAndGlyphs">)</text>
<text transform="translate(20.2 290.6) rotate(-90)" x="0" y="0" font-size="20.5" textLength="213" lengthAdjust="spacingAndGlyphs">Occurance fraction (1)</text>
</svg></body></html>
